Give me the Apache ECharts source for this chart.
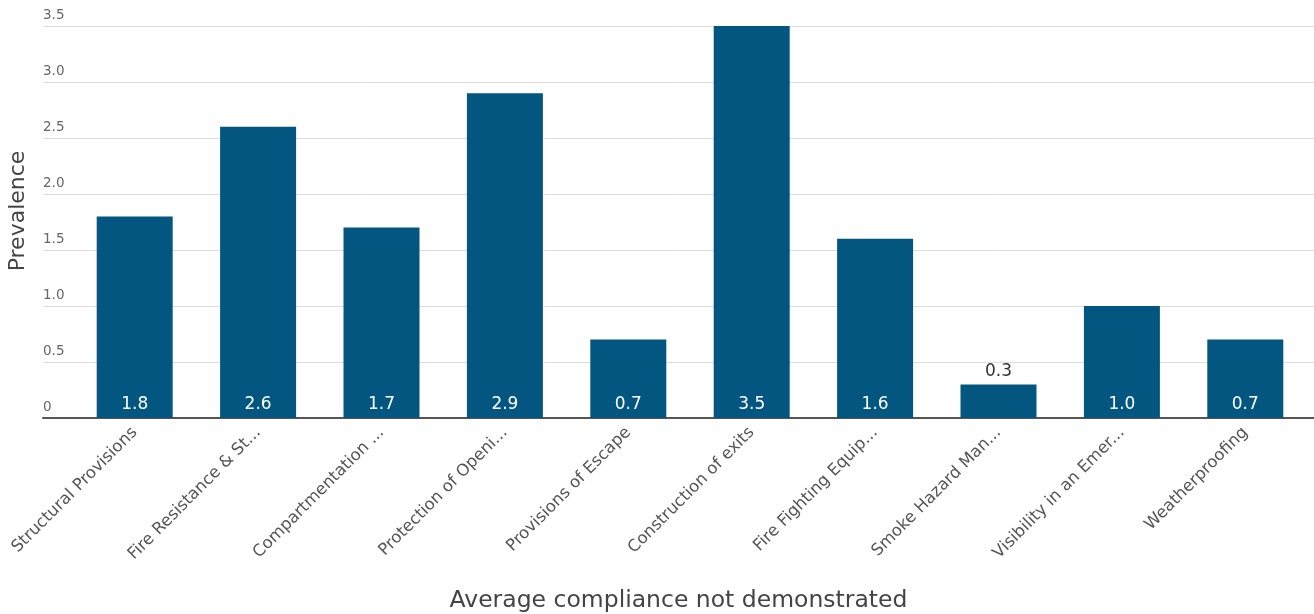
<!DOCTYPE html>
<html>
	<head>
		<meta charset="utf-8">
		<title></title>
		<script src="https://cdn.jsdelivr.net/npm/echarts@6/dist/echarts.min.js"></script>
	</head>
	<body style="margin:0;">
		<div id="my" style="width: 1314px;height: 614px;"></div>

		<script>
			var myChart = echarts.init(document.getElementById('my'));

			var categories = ['Structural Provisions', 'Fire Resistance & St...', 'Compartmentation ...', 'Protection of Openi...',
				'Provisions of Escape', 'Construction of exits', 'Fire Fighting Equip...', 'Smoke Hazard Man...',
				'Visibility in an Emer...', 'Weatherproofing'];
			var prevalence = [1.8, 2.6, 1.7, 2.9, 0.7, 3.5, 1.6, 0.3, 1.0, 0.7];

			var font = '"DejaVu Sans", sans-serif';

			var option = {
				grid: [
					{left: 73, right: 7, top: 26, bottom: 196, outerBoundsMode: 'none'},//bars
					{left: 43, right: 0, top: 26, bottom: 196, outerBoundsMode: 'none'}//gridlines + axis line
				],
				xAxis: [
					{
						type: 'category',
						gridIndex: 0,
						data: categories,
						axisLine: {show: false},
						axisTick: {show: false},
						axisLabel: {
							rotate: 45,
							interval: 0,
							margin: 12,
							color: '#555',
							fontSize: 16.5,
							fontFamily: font
						}
					},
					{
						type: 'value',
						gridIndex: 1,
						min: 0,
						max: 1,
						axisLine: {show: true, onZero: false, lineStyle: {color: '#555', width: 2}},
						axisTick: {show: false},
						axisLabel: {show: false},
						splitLine: {show: false},
						name: 'Average compliance not demonstrated',
						nameLocation: 'middle',
						nameGap: 171,
						nameTextStyle: {color: '#444', fontSize: 23.5, fontFamily: font}
					}
				],
				yAxis: [
					{
						type: 'value',
						gridIndex: 0,
						min: 0,
						max: 3.5,
						interval: 0.5,
						show: false
					},
					{
						type: 'value',
						gridIndex: 1,
						min: 0,
						max: 3.5,
						interval: 0.5,
						axisLine: {show: false},
						axisTick: {show: false},
						axisLabel: {
							inside: true,
							verticalAlign: 'bottom',
							margin: 0,
							padding: [0, 0, 4, 0],
							color: '#666',
							fontSize: 13.5,
							fontFamily: font,
							formatter: function (v) {
								return v === 0 ? '0' : v.toFixed(1);
							}
						},
						splitLine: {lineStyle: {color: '#ddd', width: 1}},
						name: 'Prevalence',
						nameLocation: 'middle',
						nameGap: 14,
						nameTextStyle: {color: '#444', fontSize: 22, fontFamily: font, padding: [0, 0, 0, 22]}
					}
				],
				series: [
					{
						type: 'bar',
						xAxisIndex: 0,
						yAxisIndex: 0,
						barWidth: 76,
						itemStyle: {color: '#03567f'},
						label: {
							show: true,
							fontSize: 17,
							fontFamily: font,
							formatter: function (p) {
								return p.value.toFixed(1);
							}
						},
						// small bars get their label above the bar
						data: prevalence.map(function (v) {
							if (v < 0.5) {
								return {value: v, label: {position: 'top', color: '#333', distance: 4}};
							}
							return {value: v, label: {position: 'insideBottom', color: '#fff', distance: 5}};
						})
					}
				]
			};

			myChart.setOption(option);
		</script>
	</body>
</html>
